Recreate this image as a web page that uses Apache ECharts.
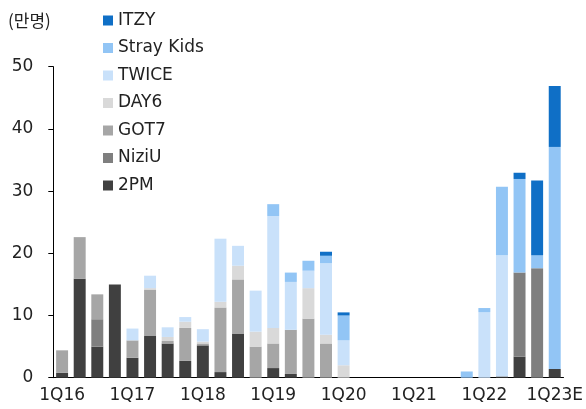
<!DOCTYPE html>
<html><head><meta charset="utf-8">
<script src="https://cdn.jsdelivr.net/npm/echarts@6/dist/echarts.min.js"></script>
<style>html,body{margin:0;padding:0;background:#fff}#c{width:586px;height:409px}</style>
</head><body><div id="c"></div>
<script>
const categories = ['1Q16','2Q16','3Q16','4Q16','1Q17','2Q17','3Q17','4Q17','1Q18','2Q18','3Q18','4Q18','1Q19','2Q19','3Q19','4Q19','1Q20','2Q20','3Q20','4Q20','1Q21','2Q21','3Q21','4Q21','1Q22','2Q22','3Q22','4Q22','1Q23E'];
const s2PM      = [0.8,15.9,5.0,15.0,3.2,6.7,5.5,2.7,5.2,0.9,7.1,0,1.55,0.6,0,0,0, 0,0,0,0,0,0,0, 0,0.2,3.4,0,1.4];
const sNiziU    = [0,0,4.4,0,0,0,0,0,0,0,0,0,0,0,0,0,0, 0,0,0,0,0,0,0, 0,0,13.5,17.6,0];
const sGOT7     = [3.6,6.7,4.0,0,2.8,7.4,0.4,5.3,0.3,10.4,8.7,5.0,3.95,7.1,9.5,5.5,0, 0,0,0,0,0,0,0, 0,0,0,0,0];
const sDAY6     = [0,0,0,0,0,0.3,0.65,1.0,0.3,0.9,2.2,2.4,2.5,0,4.9,1.4,2.0, 0,0,0,0,0,0,0, 0,0,0,0,0];
const sTWICE    = [0,0,0,0,1.9,2.0,1.55,0.75,2.0,10.15,3.2,6.6,18.0,7.7,2.8,11.5,4.0, 0,0,0,0,0,0,0, 10.55,19.5,0,0,0];
const sStrayKids= [0,0,0,0,0,0,0,0,0,0,0,0,1.9,1.5,1.6,1.2,4.0, 0,0,0,0,0,0,1.0, 0.65,11.0,15.05,2.1,35.7];
const sITZY     = [0,0,0,0,0,0,0,0,0,0,0,0,0,0,0,0.65,0.5, 0,0,0,0,0,0,0, 0,0,1.0,12.0,9.8];
const yTicks = [0,10,20,30,40,50];

const FONT = '"DejaVu Sans", "Noto Sans CJK KR", sans-serif';
const seriesDefs = [
  {name:'2PM', data:s2PM, color:'#404040'},
  {name:'NiziU', data:sNiziU, color:'#7f7f7f'},
  {name:'GOT7', data:sGOT7, color:'#a6a6a6'},
  {name:'DAY6', data:sDAY6, color:'#d9d9d9'},
  {name:'TWICE', data:sTWICE, color:'#c9e1fa'},
  {name:'Stray Kids', data:sStrayKids, color:'#92c5f5'},
  {name:'ITZY', data:sITZY, color:'#0f6fc6'}
];
const chart = echarts.init(document.getElementById('c'), null, {renderer:'canvas'});
chart.setOption({
  animation:false,
  textStyle:{fontFamily:FONT},
  grid:{left:53.3, right:21.7, top:66.7, bottom:31.3, containLabel:false},
  title:{text:'(만명)', left:3, top:7, textStyle:{fontFamily:'"Noto Sans CJK KR", sans-serif', fontSize:17, fontWeight:'normal', color:'#222'}},
  legend:{
    orient:'vertical', left:98, top:7, itemWidth:10, itemHeight:10, itemGap:10.5,
    icon:'rect',
    data:['ITZY','Stray Kids','TWICE','DAY6','GOT7','NiziU','2PM'],
    textStyle:{fontFamily:FONT, fontSize:17, color:'#222', lineHeight:17}
  },
  xAxis:{
    type:'category', data:categories, boundaryGap:true,
    axisLine:{lineStyle:{color:'#000', width:1}},
    axisTick:{length:5, lineStyle:{color:'#000'}, interval:3},
    axisLabel:{interval:3, fontSize:17, color:'#222', margin:9, fontFamily:FONT}
  },
  yAxis:{
    type:'value', min:0, max:50, interval:10,
    splitLine:{show:false},
    axisLine:{show:true, lineStyle:{color:'#000', width:1}},
    axisTick:{show:true, length:5, lineStyle:{color:'#000'}},
    axisLabel:{fontSize:17, color:'#222', margin:20, fontFamily:FONT,
      formatter: v => yTicks.includes(v) ? String(v) : ''}
  },
  series: seriesDefs.map(d => ({
    name:d.name, type:'bar', stack:'total', data:d.data.map(v => v === 0 ? null : v), barCategoryGap:'32%',
    itemStyle:{color:d.color}
  }))
});
</script></body></html>
